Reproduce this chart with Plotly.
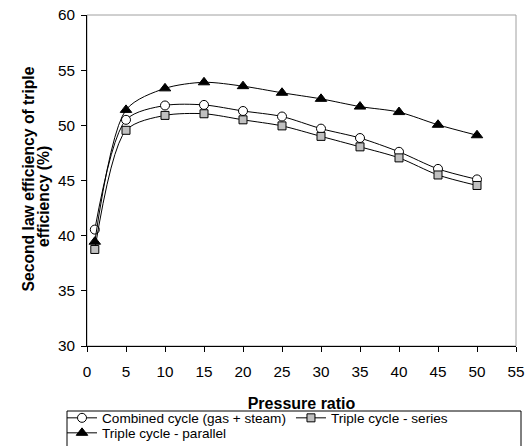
import plotly.graph_objects as go

pressure_ratio = [1, 5, 10, 15, 20, 25, 30, 35, 40, 45, 50]
combined_cycle = [40.55, 50.5, 51.8, 51.85, 51.3, 50.8, 49.7, 48.85, 47.6, 46.05, 45.1]
triple_series = [38.75, 49.55, 50.9, 51.05, 50.5, 49.95, 49.0, 48.05, 47.05, 45.5, 44.55]
triple_parallel = [39.45, 51.4, 53.35, 53.9, 53.55, 52.95, 52.4, 51.7, 51.2, 50.05, 49.1]

x_ticks = list(range(0, 56, 5))
y_ticks = list(range(30, 61, 5))

FONT = "Liberation Sans, Arial, sans-serif"

# plot area in pixels: x 87..516, y 15..346
L, R, T, B = 87, 516, 15, 346
W, H = 528, 446


def px(xp):
    return (xp - L) / (R - L)


def py(yp):
    return (B - yp) / (B - T)


line_style = dict(color="black", width=1, shape="spline", smoothing=0.8)

fig = go.Figure()
fig.add_trace(go.Scatter(
    x=pressure_ratio, y=combined_cycle, name="Combined cycle (gas + steam)",
    mode="lines+markers", line=line_style, legend="legend",
    marker=dict(symbol="circle", size=9, color="white", line=dict(color="black", width=1))))
fig.add_trace(go.Scatter(
    x=pressure_ratio, y=triple_series, name="Triple cycle - series",
    mode="lines+markers", line=line_style, legend="legend",
    marker=dict(symbol="square", size=8, color="#c0c0c0", line=dict(color="black", width=1))))
fig.add_trace(go.Scatter(
    x=pressure_ratio, y=triple_parallel, name="Triple cycle - parallel",
    mode="lines+markers", line=line_style, legend="legend2",
    marker=dict(symbol="triangle-up", size=10, color="black", line=dict(color="black", width=1))))

# plot-area frame (grey top/right like the original)
fig.add_shape(type="rect", xref="paper", yref="paper", x0=0, y0=0, x1=1, y1=1,
              line=dict(color="#a0a0a0", width=1), layer="below")
# legend box
fig.add_shape(type="rect", xref="paper", yref="paper",
              x0=px(67), x1=px(521), y0=py(411), y1=py(460),
              line=dict(color="black", width=1), fillcolor="rgba(0,0,0,0)")

# y-axis title, two lines (rotated; yanchor bottom = start of text)
fig.add_annotation(text="<b>Second law efficiency of triple</b>", xref="paper", yref="paper",
                   x=px(28), y=py(294), textangle=-90, showarrow=False,
                   xanchor="center", yanchor="bottom", font=dict(size=15.7, family=FONT))
fig.add_annotation(text="<b>efficiency (%)</b>", xref="paper", yref="paper",
                   x=px(43.5), y=py(249), textangle=-90, showarrow=False,
                   xanchor="center", yanchor="bottom", font=dict(size=15.7, family=FONT))

leg_common = dict(orientation="h", xanchor="left", yanchor="top",
                  bgcolor="rgba(0,0,0,0)", borderwidth=0,
                  font=dict(size=13.6, family=FONT), itemwidth=30, traceorder="normal")

fig.update_layout(
    width=W, height=H,
    margin=dict(l=L, r=W - R, t=T, b=H - B, autoexpand=False),
    paper_bgcolor="white", plot_bgcolor="white",
    font=dict(family=FONT, size=15, color="black"),
    showlegend=True,
    legend=dict(x=px(62), y=py(402.5), **leg_common),
    legend2=dict(x=px(62), y=py(417.5), **leg_common),
    xaxis=dict(range=[0, 55], tickvals=x_ticks, showgrid=False, zeroline=False,
               showline=True, linecolor="black", linewidth=1,
               ticks="outside", ticklen=5, tickcolor="black",
               tickfont=dict(size=15.3), ticklabelstandoff=7,
               title=dict(text="<b>Pressure ratio</b>", font=dict(size=16), standoff=18)),
    yaxis=dict(range=[30, 60], tickvals=y_ticks, showgrid=False, zeroline=False,
               showline=True, linecolor="black", linewidth=1,
               ticks="outside", ticklen=5, tickcolor="black",
               tickfont=dict(size=15.3), ticklabelstandoff=3),
)

fig.write_html("out.html")
